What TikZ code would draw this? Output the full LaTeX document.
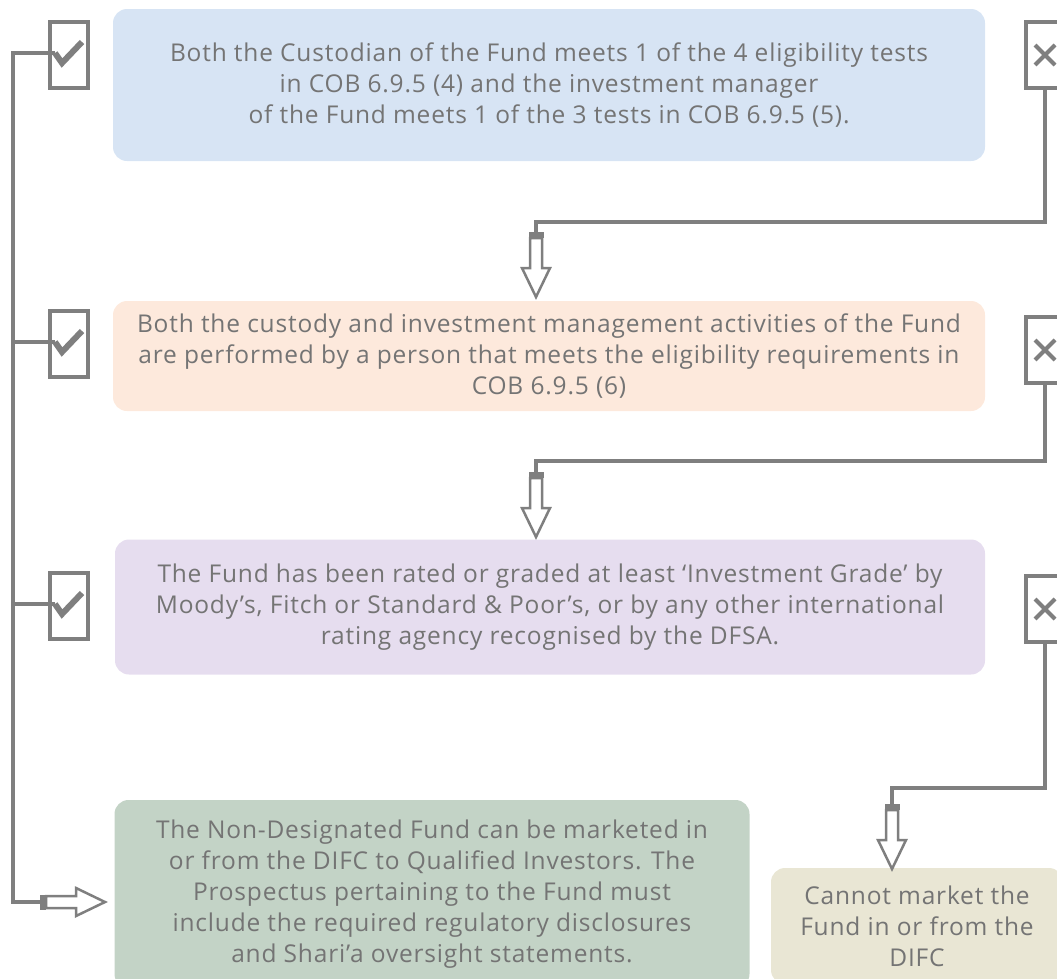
\documentclass[tikz,border=0pt]{standalone}
\usepackage{fontspec}
\setmainfont[LetterSpace=3.3]{Open Sans}
\usetikzlibrary{positioning}

\definecolor{linegray}{HTML}{7F7F7F}
\definecolor{textgray}{HTML}{747474}
\definecolor{bluebox}{HTML}{D7E4F4}
\definecolor{orangebox}{HTML}{FDE9DC}
\definecolor{purplebox}{HTML}{E6DDEF}
\definecolor{greenbox}{HTML}{C3D3C6}
\definecolor{beigebox}{HTML}{E9E6D4}

\tikzset{
  cond/.style={rounded corners=14pt, align=center, text=textgray, inner sep=0pt,
    font=\fontsize{24.5}{31}\selectfont},
  tickbox/.style={draw=linegray, line width=3.5pt, fill=white, minimum width=38pt,
    minimum height=66pt, inner sep=0pt,
    path picture={\draw[linegray, line width=6pt]
      ([shift={(-14pt,2pt)}]path picture bounding box.center) -- ++(7pt,-10pt) -- ++(20pt,21pt);}},
  crossbox/.style={draw=linegray, line width=3.5pt, fill=white, minimum width=38pt,
    minimum height=66pt, inner sep=0pt,
    path picture={\draw[linegray, line width=4pt]
      ([shift={(-10pt,10pt)}]path picture bounding box.center) -- ++(20pt,-20pt)
      ([shift={(-10pt,-10pt)}]path picture bounding box.center) -- ++(20pt,20pt);}},
  conn/.style={draw=linegray, line width=3.5pt},
  hollow arrow/.pic={
    \fill[linegray] (-7.5,0) rectangle (7.5,6);
    \draw[linegray, line width=2.5pt, fill=white, line join=miter]
      (-6,6) -- (-6,36) -- (-14,36) -- (0,65) -- (14,36) -- (6,36) -- (6,6) -- cycle;
  }
}

\begin{document}
\begin{tikzpicture}[x=1pt,y=-1pt]
    \useasboundingbox (0,0) rectangle (1057,978);

    % --------
    % Conditions
    % --------
    \node[cond, fill=bluebox, minimum width=872pt, minimum height=152pt] at (549,85) (custodian)
        {Both the Custodian of the Fund meets 1 of the 4 eligibility tests\\in COB 6.9.5 (4) and the investment manager\\of the Fund meets 1 of the 3 tests in COB 6.9.5 (5).};
    \node[cond, fill=orangebox, minimum width=872pt, minimum height=110pt] at (549,356) (custody)
        {Both the custody and investment management activities of the Fund\\are performed by a person that meets the eligibility requirements in\\COB 6.9.5 (6)};
    \node[cond, fill=purplebox, minimum width=870pt, minimum height=135pt] at (550,607) (rating)
        {The Fund has been rated or graded at least ‘Investment Grade’ by\\Moody’s, Fitch or Standard \& Poor’s, or by any other international\\rating agency recognised by the DFSA.};

    % --------
    % Outcomes
    % --------
    \node[cond, fill=greenbox, minimum width=635pt, minimum height=188pt] at (432,894) (market)
        {The Non-Designated Fund can be marketed in\\or from the DIFC to Qualified Investors. The\\Prospectus pertaining to the Fund must\\include the required regulatory disclosures\\and Shari’a oversight statements.};
    \node[cond, fill=beigebox, minimum width=292pt, minimum height=116pt] at (917,926) (nomarket)
        {Cannot market the\\Fund in or from the\\DIFC};

    % Yes / No boxes
    \node[tickbox] at (69,55) (tick1) {};
    \node[tickbox] at (69,344) (tick2) {};
    \node[tickbox] at (69,606) (tick3) {};
    \node[crossbox] at (1045,55) (cross1) {};
    \node[crossbox] at (1045,350) (cross2) {};
    \node[crossbox] at (1045,609) (cross3) {};

    \coordinate (yes1) at ([shift={(-14pt,2pt)}]tick1.center);
    \coordinate (yes2) at ([shift={(-14pt,2pt)}]tick2.center);
    \coordinate (yes3) at ([shift={(-14pt,2pt)}]tick3.center);
    \coordinate (trunk) at (13,53);
    \coordinate (arr1) at (536,232);
    \coordinate (arr2) at (536,472);
    \coordinate (arr3) at (892,804);
    \coordinate (arr4) at (40,902);

    % Draw line
    \draw[conn] (yes1) -- (trunk) |- (arr4);
    \draw[conn] (yes2) -- (yes2 -| trunk);
    \draw[conn] (yes3) -- (yes3 -| trunk);
    \draw[conn] (cross1.south) |- ([yshift=10pt]arr1) -- (arr1);
    \draw[conn] (cross2.south) |- ([yshift=11pt]arr2) -- (arr2);
    \draw[conn] (cross3.south) |- ([yshift=16pt]arr3) -- (arr3);

    \pic at (arr1) {hollow arrow};
    \pic at (arr2) {hollow arrow};
    \pic at (arr3) {hollow arrow};
    \pic[rotate=90] at (arr4) {hollow arrow};

\end{tikzpicture}
\end{document}
